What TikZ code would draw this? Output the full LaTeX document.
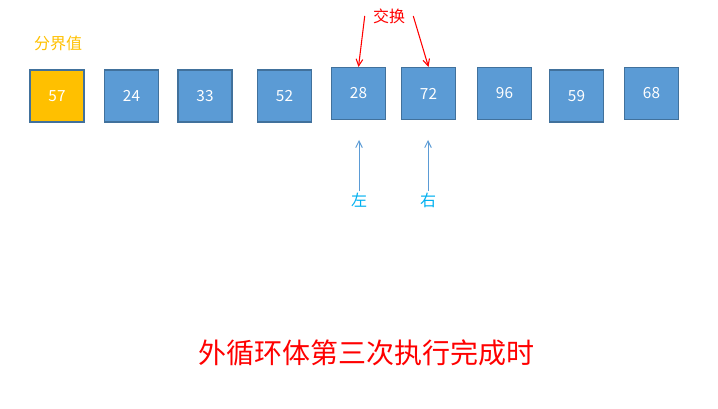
\documentclass[tikz,border=0pt]{standalone}
\usepackage{fontspec}
\newfontfamily\cjk{Noto Sans CJK SC}
\usetikzlibrary{arrows.meta}
\definecolor{boxblue}{HTML}{5B9BD5}
\definecolor{boxedge}{HTML}{41719C}
\definecolor{pivot}{HTML}{FFC000}
\definecolor{ptrblue}{HTML}{00B0F0}

\begin{document}
\begin{tikzpicture}[x=0.75pt,y=-0.75pt,font=\cjk,
 >={Straight Barb[length=5pt,width=5pt]},
 cell/.style={draw=boxedge,line width=0.8pt,fill=boxblue,text=white,minimum width=40.5pt,minimum height=39pt,inner sep=0pt,font=\cjk\fontsize{11.5}{13}\selectfont},
 tag/.style={inner sep=1pt,font=\cjk\fontsize{12}{14}\selectfont}]
\useasboundingbox (0,0) rectangle (718,409);
% array cells
\node[cell,fill=pivot] (b57) at (57,96) {57};
\node[cell] (b24) at (131.5,96) {24};
\node[cell] (b33) at (205,96) {33};
\node[cell] (b52) at (284.5,96) {52};
\node[cell] (b28) at (358.5,93.5) {28};
\node[cell] (b72) at (428.5,93.5) {72};
\node[cell] (b96) at (504.5,93.5) {96};
\node[cell] (b59) at (576.5,96) {59};
\node[cell] (b68) at (651.5,93.5) {68};
% labels
\node[tag,text=pivot] (pv) at (58,43) {分界值};
\node[tag,text=red] (swap) at (389,16) {交换};
\node[tag,text=ptrblue] (lo) at (359,200) {左};
\node[tag,text=ptrblue] (hi) at (428,200) {右};
\draw[->,red,line width=0.8pt] ([xshift=-5pt]swap.west) -- (b28.north);
\draw[->,red,line width=0.8pt] ([xshift=5pt]swap.east) -- (b72.north);
\coordinate (loend) at (359,140);
\coordinate (hiend) at (428,140);
\draw[->,boxblue,line width=0.7pt] (lo.north) -- (loend);
\draw[->,boxblue,line width=0.7pt] (hi.north) -- (hiend);
% caption
\node[text=red,font=\cjk\fontsize{21}{24}\selectfont] (cap) at (366,353) {外循环体第三次执行完成时};
\end{tikzpicture}
\end{document}
